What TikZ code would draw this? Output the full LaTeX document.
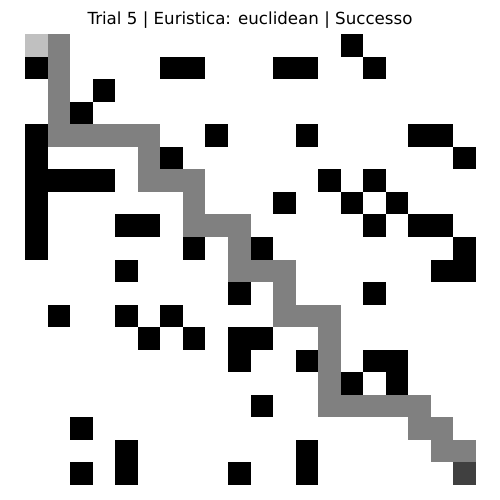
\documentclass[tikz,border=0pt]{standalone}
\usepackage{fontspec}
\setmainfont{DejaVu Sans}
\usepackage{tikz}
\definecolor{startgray}{HTML}{C0C0C0}
\definecolor{pathgray}{HTML}{808080}
\definecolor{goalgray}{HTML}{404040}
\newcommand{\gridcell}[3]{\fill[#1] ({25+22.55*#2},{34+22.55*#3}) rectangle +(22.55,22.55);}
\begin{document}
\begin{tikzpicture}[x=0.72pt,y=-0.72pt]
\useasboundingbox (0,0) rectangle (500,500);
\node (title) at (250,20) {\fontsize{12}{14}\selectfont Trial 5 | Euristica: euclidean | Successo};

% obstacles
\foreach \r/\cs in {0/{14},1/{0,6,7,11,12,15},2/{3},3/{2},4/{0,8,12,17,18},
  5/{0,6,19},6/{0,1,2,3,13,15},7/{0,11,14,16},8/{0,4,5,15,17,18},
  9/{0,7,10,19},10/{4,18,19},11/{9,15},12/{1,4,6},13/{5,7,9,10},
  14/{9,12,15,16},15/{14,16},16/{10},17/{2},18/{4,12},19/{2,4,9,12}}
  {\foreach \c in \cs {\gridcell{black}{\c}{\r}}}

% path
\foreach \r/\cs in {0/{1},1/{1},2/{1},3/{1},4/{1,2,3,4,5},5/{5},6/{5,6,7},
  7/{7},8/{7,8,9},9/{9},10/{9,10,11},11/{11},12/{11,12,13},13/{13},
  14/{13},15/{13},16/{13,14,15,16,17},17/{17,18},18/{18,19}}
  {\foreach \c in \cs {\gridcell{pathgray}{\c}{\r}}}

% start and goal
\gridcell{startgray}{0}{0}
\gridcell{goalgray}{19}{19}
\end{tikzpicture}
\end{document}
